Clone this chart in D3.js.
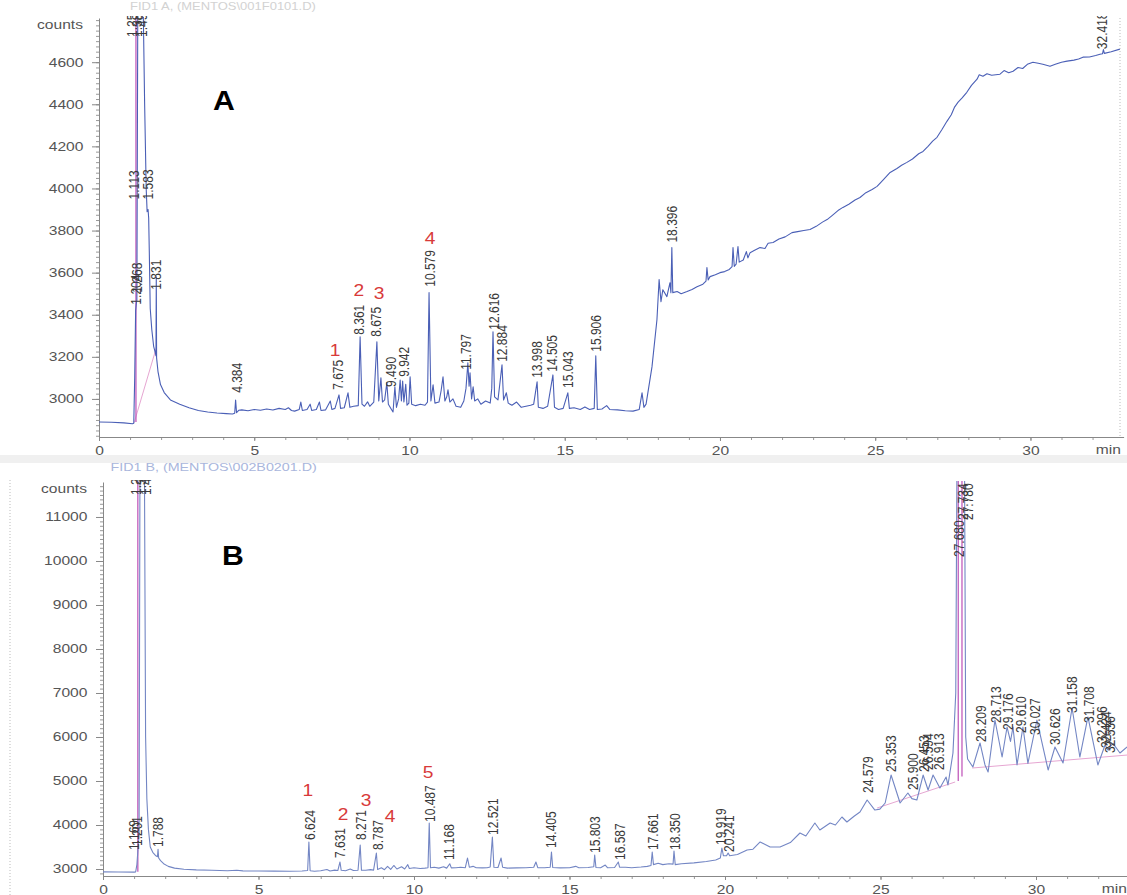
<!DOCTYPE html>
<html>
<head>
<meta charset="utf-8">
<script src="https://cdn.jsdelivr.net/npm/d3@7"></script>
<style>
  body { margin: 0; background: #fff; }
  svg text { font-family: "Liberation Sans", Arial, sans-serif; }
</style>
</head>
<body>
<svg id="chart" width="1127" height="895"></svg>
<script>
// ---- data (retention time in min, detector counts) ----
const xTicks = [0, 5, 10, 15, 20, 25, 30];
const yTicksA = [3000, 3200, 3400, 3600, 3800, 4000, 4200, 4400, 4600];
const yTicksB = [3000, 4000, 5000, 6000, 7000, 8000, 9000, 10000, 11000];

// chromatogram A
const traceA = [
  [0.00,2890],[0.40,2889],[0.80,2886],[1.08,2882],[1.12,2884],[1.15,3100],[1.18,3420],[1.20,3450],[1.22,3470],
  [1.25,4900],[1.42,4900],[1.47,4400],[1.52,4000],[1.55,3890],[1.58,3900],[1.60,3860],[1.62,3700],[1.65,3430],
  [1.70,3330],[1.76,3250],[1.82,3215],[1.835,3205],[1.845,3580],[1.855,3195],[1.90,3130],[1.98,3068],[2.10,3030],
  [2.30,2995],[2.60,2975],[2.90,2958],[3.20,2945],[3.50,2938],[3.80,2933],[4.10,2930],[4.30,2928],[4.37,2932],
  [4.40,2995],[4.43,2935],[4.50,2946],[4.6,2948],[4.8,2944],[5.0,2950],[5.2,2946],[5.4,2952],[5.6,2947],[5.8,2955],
  [6.0,2950],[6.1,2958],[6.2,2945],[6.3,2942],[6.45,2950],[6.5,2985],[6.55,2945],[6.7,2950],[6.8,2975],[6.85,2945],
  [7.0,2950],[7.1,2985],[7.15,2945],[7.3,2948],[7.45,2990],[7.5,2950],[7.6,2955],[7.73,3019],[7.78,2955],[7.9,2958],
  [8.02,3029],[8.08,2960],[8.2,2965],[8.35,2968],[8.41,3295],[8.47,2975],[8.55,2965],[8.65,2986],[8.72,2965],
  [8.85,2985],[8.95,3271],[9.01,2990],[9.08,3100],[9.13,2985],[9.2,2995],[9.27,3076],[9.32,2975],[9.42,2950],
  [9.47,2938],[9.53,3057],[9.58,2960],[9.65,3000],[9.7,3090],[9.74,2990],[9.78,3085],[9.82,2985],[9.88,3070],
  [9.92,2970],[9.98,2980],[10.02,3105],[10.07,2975],[10.2,2968],[10.35,2975],[10.5,2970],[10.58,2985],[10.63,3505],
  [10.69,2990],[10.76,3067],[10.82,2980],[10.95,2985],[11.02,3040],[11.08,3105],[11.14,2990],[11.2,3010],[11.24,3043],
  [11.3,2985],[11.4,3000],[11.5,2965],[11.65,2960],[11.75,2990],[11.82,3050],[11.88,3171],[11.92,3060],[11.95,3124],
  [12.0,3000],[12.05,3057],[12.1,2990],[12.2,3000],[12.3,2975],[12.45,2990],[12.6,2980],[12.65,3050],[12.69,3319],
  [12.74,3010],[12.85,2995],[12.98,3162],[13.03,2995],[13.12,3029],[13.18,2980],[13.3,2970],[13.45,2985],[13.6,2960],
  [13.75,2965],[13.9,2970],[14.0,2975],[14.11,3081],[14.15,2960],[14.3,2955],[14.45,2965],[14.62,3114],[14.67,2960],
  [14.8,2950],[14.95,2955],[15.1,3029],[15.15,2955],[15.3,2958],[15.5,2950],[15.65,2962],[15.8,2950],[15.95,2955],
  [16.0,3205],[16.05,2950],[16.2,2952],[16.35,2968],[16.45,2950],[16.7,2948],[16.95,2944],[17.2,2942],[17.4,2950],
  [17.49,3029],[17.55,2960],[17.62,2975],[17.81,3152],[17.97,3376],[18.04,3567],[18.10,3462],[18.16,3519],[18.29,3486],
  [18.39,3552],[18.42,3505],[18.45,3719],[18.48,3505],[18.62,3510],[18.75,3500],[18.94,3510],[19.1,3520],[19.26,3533],
  [19.45,3545],[19.55,3560],[19.58,3624],[19.62,3565],[19.68,3581],[19.85,3590],[20.0,3600],[20.15,3605],[20.3,3615],
  [20.39,3629],[20.42,3719],[20.46,3630],[20.52,3640],[20.58,3724],[20.62,3650],[20.75,3660],[20.85,3700],[20.9,3670],
  [20.97,3695],[21.1,3705],[21.29,3719],[21.45,3715],[21.55,3740],[21.71,3743],[21.9,3760],[22.1,3770],[22.32,3790],
  [22.5,3795],[22.7,3800],[22.9,3805],[23.1,3820],[23.3,3840],[23.45,3852],[23.6,3870],[23.8,3895],[23.96,3910],
  [24.15,3925],[24.35,3945],[24.51,3957],[24.7,3980],[24.9,3995],[25.06,4010],[25.25,4040],[25.48,4076],[25.7,4095],
  [25.85,4110],[26.02,4124],[26.2,4140],[26.4,4165],[26.54,4176],[26.7,4200],[26.85,4225],[26.99,4243],[27.15,4280],
  [27.31,4319],[27.45,4350],[27.55,4385],[27.67,4410],[27.8,4430],[27.95,4457],[28.1,4490],[28.28,4519],[28.35,4540],
  [28.47,4533],[28.6,4545],[28.75,4538],[29.02,4543],[29.15,4560],[29.3,4550],[29.44,4557],[29.6,4575],[29.75,4570],
  [29.9,4590],[30.08,4600],[30.25,4595],[30.4,4590],[30.63,4581],[30.8,4590],[31.0,4600],[31.18,4605],[31.4,4610],
  [31.55,4615],[31.69,4624],[31.9,4625],[32.1,4632],[32.24,4638],[32.32,4640],[32.35,4660],[32.38,4642],[32.6,4650],
  [32.88,4662]
];
// peak labels A: [text, time, counts at label foot]
const peaksA = [
  ['1.258',1.07,4720],['1.383',1.23,4720],['1.498',1.39,4720],
  ['1.113',1.13,3948],['1.583',1.58,3948],['1.204',1.19,3448],['1.268',1.21,3505],['1.831',1.84,3519],
  ['4.384',4.44,3029],['7.675',7.70,3043],['8.361',8.37,3305],['8.675',8.92,3295],['9.490',9.40,3057],
  ['9.942',9.82,3105],['10.579',10.66,3533],['11.797',11.82,3138],['12.616',12.72,3329],['12.884',12.98,3176],
  ['13.998',14.11,3100],['14.505',14.59,3129],['15.043',15.10,3052],['15.906',16.01,3224],['18.396',18.45,3743],
  ['32.418',32.30,4662]
];
const numbersA = [['1',7.60,3205],['2',8.37,3490],['3',9.02,3475],['4',10.66,3735]];
const baselinesA = [[[1.13,2886],[1.84,3240]]];
const cutLinesA = [[1.19,2890,4900]];

// chromatogram B
const traceB = [
  [0.00,2935],[0.50,2933],[1.00,2930],[1.05,2935],[1.09,3100],[1.13,3500],[1.16,3800],[1.19,12500],[1.33,12500],
  [1.37,6000],[1.41,4600],[1.46,3900],[1.52,3500],[1.60,3380],[1.70,3300],[1.75,3280],[1.77,3450],[1.79,3250],
  [1.85,3190],[1.95,3120],[2.10,3060],[2.30,3020],[2.60,2995],[3.00,2980],[3.50,2970],[4.00,2962],[4.30,2970],
  [4.50,2958],[5.00,2955],[5.50,2952],[6.00,2950],[6.40,2955],[6.58,2965],[6.62,3614],[6.66,2960],[6.8,2950],
  [7.0,2960],[7.2,2990],[7.3,2955],[7.45,2975],[7.55,2965],[7.62,3159],[7.66,2970],[7.8,2960],[7.95,3000],[8.05,2965],
  [8.2,2970],[8.27,3545],[8.31,2975],[8.45,2970],[8.6,2985],[8.7,2975],[8.79,3364],[8.83,2990],[8.95,3030],[9.05,2985],
  [9.15,3060],[9.25,2990],[9.35,3080],[9.45,3000],[9.6,3050],[9.7,3000],[9.8,3100],[9.85,3010],[10.0,3030],[10.2,3010],
  [10.35,3020],[10.45,3030],[10.49,4045],[10.53,3030],[10.65,3040],[10.8,3020],[10.95,3050],[11.05,3020],[11.15,3120],
  [11.2,3025],[11.35,3030],[11.5,3040],[11.65,3030],[11.72,3250],[11.78,3040],[11.9,3060],[12.0,3030],[12.2,3025],
  [12.35,3030],[12.45,3045],[12.52,3727],[12.57,3040],[12.7,3035],[12.8,3250],[12.85,3040],[13.0,3020],[13.3,3025],
  [13.6,3030],[13.85,3040],[13.92,3160],[13.98,3030],[14.2,3030],[14.38,3040],[14.42,3386],[14.46,3035],[14.7,3025],
  [15.0,3030],[15.2,3060],[15.3,3030],[15.6,3035],[15.78,3050],[15.81,3318],[15.85,3035],[16.0,3030],[16.15,3090],
  [16.22,3030],[16.45,3035],[16.57,3159],[16.61,3040],[16.8,3040],[17.0,3030],[17.3,3045],[17.5,3060],[17.62,3080],
  [17.66,3386],[17.7,3100],[17.85,3130],[18.0,3100],[18.2,3120],[18.33,3110],[18.36,3409],[18.4,3100],[18.6,3120],
  [19.0,3140],[19.4,3170],[19.7,3205],[19.85,3250],[19.9,3477],[19.95,3300],[20.05,3300],[20.1,3364],[20.15,3300],
  [20.4,3330],[20.71,3432],[20.9,3450],[21.13,3614],[21.45,3500],[21.77,3500],[22.1,3600],[22.41,3818],[22.6,3750],
  [22.89,4045],[23.05,3886],[23.38,4045],[23.55,4000],[23.76,4182],[23.92,4068],[24.15,4200],[24.34,4295],[24.57,4568],
  [24.82,4340],[24.98,4360],[25.15,4500],[25.34,5136],[25.63,4500],[25.88,4727],[26.01,4600],[26.17,4568],[26.37,5136],
  [26.53,4795],[26.69,5136],[26.91,4840],[27.11,5090],[27.17,4909],[27.33,5636],[27.42,7000],[27.46,12500],[27.70,12500],
  [27.74,6000],[27.80,5500],[27.97,5318],[28.20,5864],[28.36,5364],[28.46,5205],[28.68,6386],[28.91,5545],[29.07,6227],
  [29.18,5900],[29.26,6227],[29.39,5364],[29.58,6227],[29.74,5400],[30.03,6386],[30.39,5250],[30.61,5773],[30.87,5409],
  [31.16,6659],[31.41,5545],[31.67,6455],[31.99,5364],[32.22,5818],[32.32,5700],[32.40,5800],[32.48,5850],[32.70,5636],
  [32.93,5773]
];
const peaksB = [
  ['1.282',1.06,11500],['1.346',1.22,11500],['1.476',1.38,11500],
  ['1.169',1.00,3432],['1.201',1.09,3523],['1.788',1.77,3500],['6.624',6.66,3659],['7.631',7.62,3250],
  ['8.271',8.30,3659],['8.787',8.84,3432],['10.487',10.51,4068],['11.168',11.13,3205],['12.521',12.54,3773],
  ['14.405',14.41,3477],['15.803',15.82,3364],['16.587',16.62,3205],['17.661',17.68,3432],['18.350',18.39,3432],
  ['19.919',19.87,3545],['20.241',20.13,3386],['24.579',24.60,4727],['25.353',25.34,5205],['25.900',26.05,4795],
  ['26.453',26.40,5205],['26.594',26.53,5250],['26.913',26.88,5250],['27.680',27.52,10090],['27.734',27.65,10932],
  ['27.780',27.81,10932],['28.209',28.23,5886],['28.713',28.71,6318],['29.176',29.10,6159],['29.610',29.52,6091],
  ['30.027',29.97,6045],['30.626',30.61,5818],['31.158',31.16,6545],['31.708',31.70,6318],['32.296',32.12,5864],
  ['32.424',32.25,5750],['32.536',32.38,5636]
];
const numbersB = [['1',6.59,4660],['2',7.72,4114],['3',8.46,4430],['4',9.23,4068],['5',10.45,5060]];
const baselinesB = [[[24.89,4386],[27.40,4977]], [[27.95,5295],[32.93,5590]]];
const cutLinesB = [[1.12,2935,12500],[27.50,5000,12500],[27.62,5100,12500]];

const svg = d3.select('#chart');

// faint scan background bits
svg.append('rect').attr('x', 0).attr('y', 455).attr('width', 1127).attr('height', 8).attr('fill', '#f0f0f0');
svg.append('text').attr('x', 100).attr('y', 10).attr('font-size', 10).attr('fill', '#d2d2d2')
  .attr('transform', 'scale(1.3,1)').text('FID1 A, (MENTOS\\001F0101.D)');
svg.append('text').attr('x', 85).attr('y', 471).attr('font-size', 11).attr('fill', '#a9b6dc')
  .attr('transform', 'scale(1.3,1)').text('FID1 B, (MENTOS\\002B0201.D)');

function drawPanel(p) {
  const x = d3.scaleLinear().domain([0, 33]).range(p.xRange);
  const y = d3.scaleLinear().domain(p.yDomain).range(p.yRange);
  const g = svg.append('g');

  svg.append('clipPath').attr('id', 'clip' + p.name).append('rect')
    .attr('x', p.xRange[0]).attr('y', p.yRange[1] - 1)
    .attr('width', p.xRange[1] - p.xRange[0]).attr('height', p.yRange[0] - p.yRange[1] + 1);

  // y axis with minor ticks
  g.append('g').attr('transform', `translate(${p.xRange[0]},0)`)
    .call(d3.axisLeft(y).tickValues(d3.range(p.yDomain[0] - p.yDomain[0] % p.minor + p.minor, p.yDomain[1], p.minor))
      .tickSize(3).tickFormat('').tickSizeOuter(0))
    .call(a => a.select('.domain').remove())
    .selectAll('line').attr('stroke', '#999');
  const ya = g.append('g').attr('transform', `translate(${p.xRange[0]},0)`)
    .call(d3.axisLeft(y).tickValues(p.yTicks).tickFormat(d3.format('d'))
      .tickSize(7).tickPadding(5).tickSizeOuter(0));
  ya.select('.domain').attr('stroke', '#888');
  ya.selectAll('line').attr('stroke', '#888');
  ya.selectAll('text').attr('font-size', 12).attr('fill', '#555').attr('transform', 'scale(1.3,1)');

  // x axis with minor ticks
  g.append('g').attr('transform', `translate(0,${p.yRange[0]})`)
    .call(d3.axisBottom(x).tickValues(d3.range(0, 33, 1)).tickSize(3).tickFormat('').tickSizeOuter(0))
    .call(a => a.select('.domain').remove())
    .selectAll('line').attr('stroke', '#999');
  const xa = g.append('g').attr('transform', `translate(0,${p.yRange[0]})`)
    .call(d3.axisBottom(x).tickValues(xTicks).tickSize(4).tickPadding(5).tickSizeOuter(0));
  xa.select('.domain').attr('stroke', '#888');
  xa.selectAll('line').attr('stroke', '#888');
  xa.selectAll('text').attr('font-size', 12).attr('fill', '#555').attr('transform', 'scale(1.3,1)');

  g.append('text').attr('text-anchor', 'end').attr('font-size', 12).attr('fill', '#555')
    .attr('transform', `translate(${p.xRange[0] - 16},${p.yRange[1] + 11}) scale(1.3,1)`).text('counts');
  g.append('text').attr('text-anchor', 'end').attr('font-size', 12).attr('fill', '#555')
    .attr('transform', `translate(${p.minX},${p.yRange[0] + 17}) scale(1.3,1)`).text('min');

  g.append('text').attr('font-size', 27).attr('font-weight', 'bold').attr('fill', '#000')
    .attr('transform', `translate(${p.letterPos[0]},${p.letterPos[1]}) scale(1.12,1)`).text(p.name);

  const plot = g.append('g').attr('clip-path', `url(#clip${p.name})`);

  p.baselines.forEach(seg => {
    plot.append('path').attr('d', d3.line().x(d => x(d[0])).y(d => y(d[1]))(seg))
      .attr('fill', 'none').attr('stroke', '#e6a6d2').attr('stroke-width', 1);
  });
  p.cuts.forEach(c => {
    plot.append('line').attr('x1', x(c[0])).attr('x2', x(c[0])).attr('y1', y(c[1])).attr('y2', y(c[2]))
      .attr('stroke', '#c25cbc').attr('stroke-width', 1.3);
  });

  plot.append('path')
    .attr('d', d3.line().x(d => x(d[0])).y(d => y(d[1]))(p.trace))
    .attr('fill', 'none').attr('stroke', p.color).attr('stroke-width', 1.1)
    .attr('stroke-linejoin', 'round');

  svg.append('clipPath').attr('id', 'lclip' + p.name).append('rect')
    .attr('x', 0).attr('y', p.yRange[1] - 2).attr('width', 1127).attr('height', p.yRange[0] - p.yRange[1] + 2);
  const lg = g.append('g').attr('clip-path', `url(#lclip${p.name})`);
  lg.selectAll('text.peak').data(p.peaks).enter().append('text')
    .attr('class', 'peak')
    .attr('font-size', 12).attr('fill', '#3a3a3a').attr('dy', '0.35em')
    .attr('transform', d => `translate(${x(d[1])},${y(d[2])}) scale(1.2,1) rotate(-90)`)
    .text(d => d[0]);

  g.selectAll('text.num').data(p.numbers).enter().append('text')
    .attr('class', 'num')
    .attr('font-size', 16).attr('fill', '#d83a3a').attr('text-anchor', 'middle')
    .attr('transform', d => `translate(${x(d[1])},${y(d[2])}) scale(1.2,1)`)
    .text(d => d[0]);
}

drawPanel({
  name: 'A', xRange: [99, 1123.6], yDomain: [2819, 4810], yRange: [437, 18], minor: 25,
  yTicks: yTicksA, trace: traceA, peaks: peaksA, numbers: numbersA, baselines: baselinesA, cuts: cutLinesA,
  color: '#4a5fb6', minX: 1121, letterPos: [213, 110]
});
drawPanel({
  name: 'B', xRange: [103, 1129.3], yDomain: [2841, 11795], yRange: [876, 482], minor: 100,
  yTicks: yTicksB, trace: traceB, peaks: peaksB, numbers: numbersB, baselines: baselinesB, cuts: cutLinesB,
  color: '#7386c4', minX: 1127, letterPos: [222, 565]
});

// dotted scan edges
svg.append('line').attr('x1', 1120).attr('x2', 1120).attr('y1', 18).attr('y2', 437)
  .attr('stroke', '#bbb').attr('stroke-dasharray', '1,2');
svg.append('line').attr('x1', 10).attr('x2', 10).attr('y1', 480).attr('y2', 895)
  .attr('stroke', '#bbb').attr('stroke-dasharray', '1,2');
</script>
</body>
</html>
